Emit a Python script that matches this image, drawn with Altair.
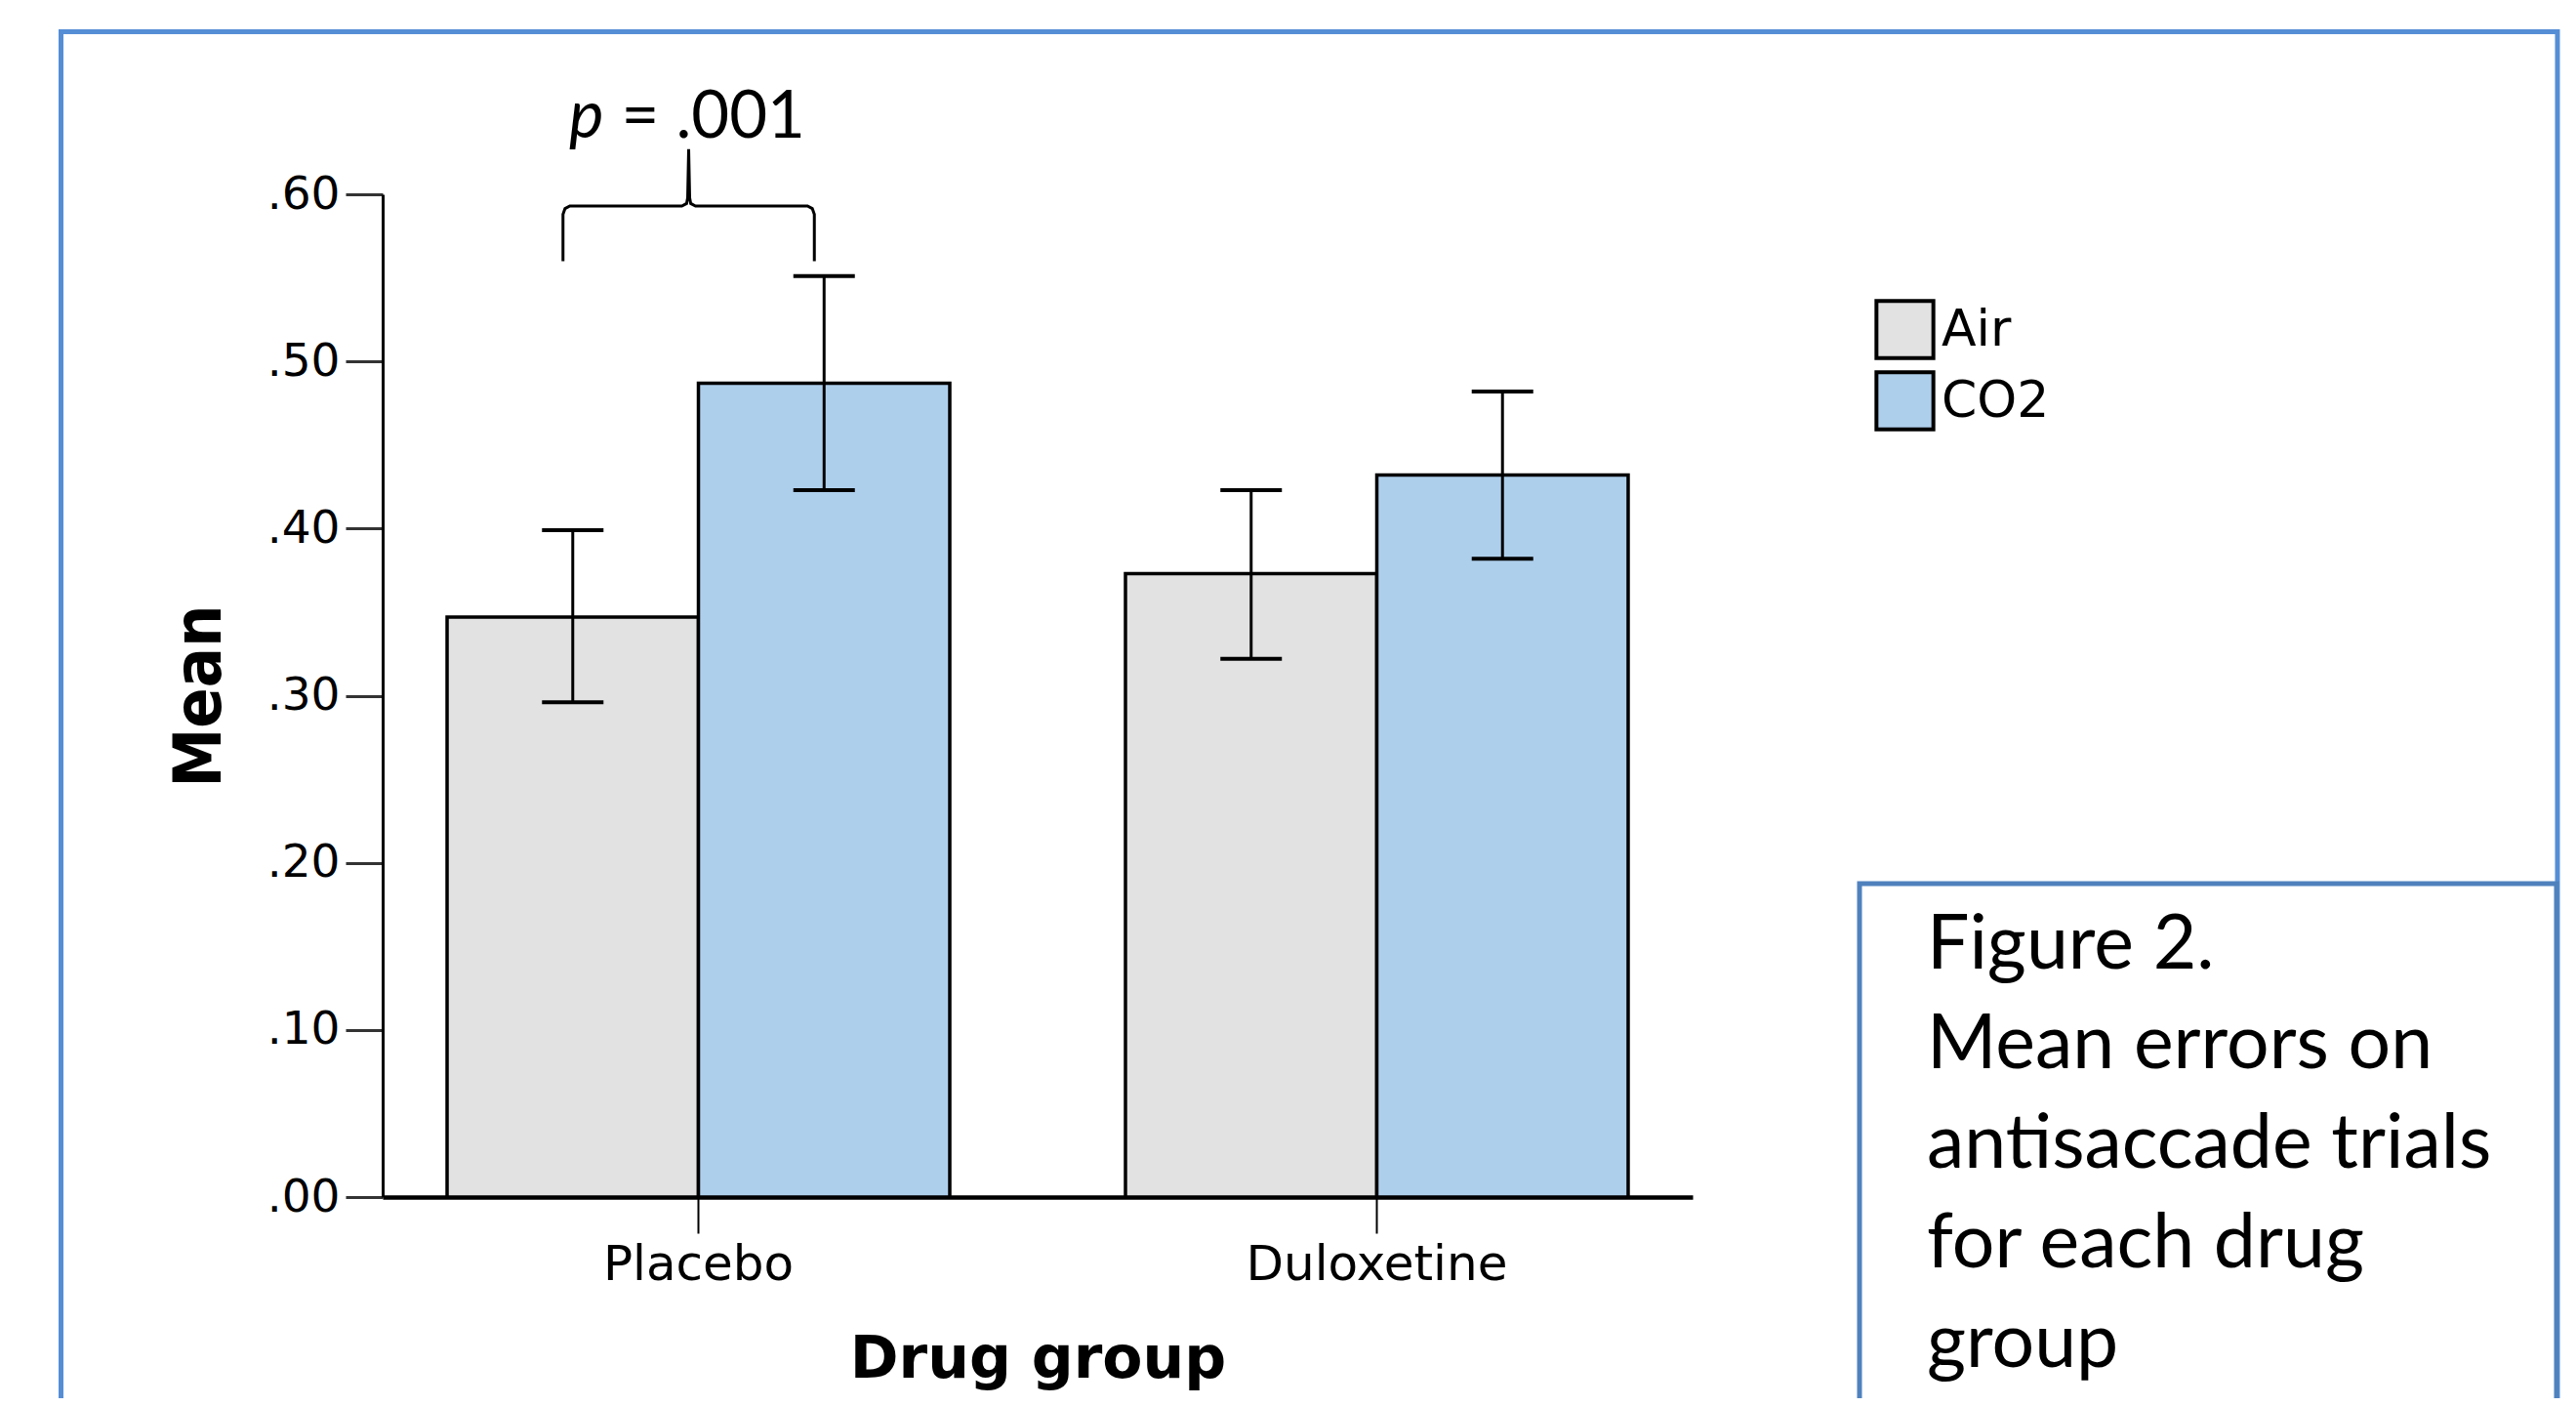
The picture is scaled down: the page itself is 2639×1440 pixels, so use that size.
import altair as alt
import pandas as pd

# ---------------- data ----------------
drugs = ["Placebo", "Duloxetine"]
conditions = ["Air", "CO2"]
# order: Placebo-Air, Placebo-CO2, Duloxetine-Air, Duloxetine-CO2
means = [0.347, 0.487, 0.373, 0.432]
lower = [0.296, 0.423, 0.322, 0.382]
upper = [0.399, 0.551, 0.423, 0.482]
y_ticks = [0.0, 0.1, 0.2, 0.3, 0.4, 0.5, 0.6]
fill_colors = ["#E2E2E2", "#AECFEC"]
p_parts = ["p", "= .001"]
p_level = 0.634
caption = ["Figure 2.", "Mean errors on", "antisaccade trials", "for each drug", "group"]

rows = []
k = 0
for d in drugs:
    for c in conditions:
        rows.append({"drug": d, "cond": c, "mean": means[k], "lo": lower[k], "hi": upper[k]})
        k += 1
df = pd.DataFrame(rows)

# ---------------- layout ----------------
W, H = 1342, 1027
PAD_IN, PAD_OUT = 0.259, 0.095
YDOM = [0, 0.6]

x_axis = alt.Axis(labelAngle=0, domainColor="black", domainWidth=4.5,
                  tickColor="black", tickWidth=2, tickSize=37,
                  labelFont="DejaVu Sans", labelFontSize=50, labelColor="black",
                  labelBaseline="alphabetic", labelPadding=47, labelLimit=1000,
                  titleFont="DejaVu Sans", titleFontSize=60, titleFontWeight="bold",
                  titleColor="black", titleBaseline="alphabetic", titleY=184)
y_axis = alt.Axis(values=y_ticks, grid=False,
                  labelExpr="substring(format(datum.value, '.2f'), 1)",
                  domainColor="black", domainWidth=3,
                  tickColor="#333333", tickWidth=3, tickSize=38,
                  labelFont="DejaVu Sans", labelFontSize=47, labelColor="black",
                  labelPadding=6,
                  titleFont="Liberation Sans Narrow, DejaVu Sans Condensed, DejaVu Sans",
                  titleFontSize=68, titleFontWeight="bold", titleColor="black",
                  titleBaseline="alphabetic", titleX=-167, titleY=H / 2)

x_scale = alt.Scale(paddingInner=PAD_IN, paddingOuter=PAD_OUT)
xo_enc = alt.XOffset("cond:N", sort=conditions, scale=alt.Scale(paddingInner=0, paddingOuter=0))
y_scale = alt.Scale(domain=YDOM, nice=False, zero=True)


def xe():
    return alt.X("drug:N", sort=drugs, scale=x_scale, title="Drug group", axis=x_axis)


bars = alt.Chart(df).mark_bar(stroke="black", strokeWidth=3.5, opacity=1).encode(
    x=xe(), xOffset=xo_enc,
    y=alt.Y("mean:Q", scale=y_scale, title="Mean", axis=y_axis),
    fill=alt.Fill("cond:N", scale=alt.Scale(domain=conditions, range=fill_colors),
                  legend=alt.Legend(title=None, orient="none", legendX=1528, legendY=107,
                                    symbolType="square", symbolSize=3400,
                                    symbolStrokeColor="black", symbolStrokeWidth=4,
                                    symbolOpacity=1,
                                    labelFont="DejaVu Sans", labelFontSize=52,
                                    labelColor="black", labelOffset=6, rowPadding=-2,
                                    padding=0)),
)

rules = alt.Chart(df).mark_rule(color="black", strokeWidth=3).encode(
    x=xe(), xOffset=xo_enc,
    y=alt.Y("lo:Q", scale=y_scale, title="Mean", axis=y_axis), y2="hi:Q")
cap_lo = alt.Chart(df).mark_tick(color="black", thickness=4, size=63, opacity=1).encode(
    x=xe(), xOffset=xo_enc,
    y=alt.Y("lo:Q", scale=y_scale, title="Mean", axis=y_axis))
cap_hi = alt.Chart(df).mark_tick(color="black", thickness=4, size=63, opacity=1).encode(
    x=xe(), xOffset=xo_enc,
    y=alt.Y("hi:Q", scale=y_scale, title="Mean", axis=y_axis))

inner = alt.layer(bars, rules, cap_lo, cap_hi)

# ---------------- bracket annotation (fraction of plot width) ----------------
total = 2 - PAD_IN + 2 * PAD_OUT
bw = 1 - PAD_IN
shift = -10 / W
L = (PAD_OUT + bw / 4) / total + shift
R = (PAD_OUT + 3 * bw / 4) / total + shift
M = (L + R) / 2
y0, y1, y2 = 0.560, 0.593, 0.627
rx, ry = 7 / W, 0.005
pts = [
    (L, y0), (L, y1 - ry), (L + rx * 0.3, y1 - ry * 0.3), (L + rx, y1),
    (M - rx, y1), (M - rx * 0.3, y1 + ry * 0.3), (M - 1 / W, y1 + ry), (M, y2),
    (M + 1 / W, y1 + ry), (M + rx * 0.3, y1 + ry * 0.3), (M + rx, y1),
    (R - rx, y1), (R - rx * 0.3, y1 - ry * 0.3), (R, y1 - ry), (R, y0),
]
br_df = pd.DataFrame({"i": list(range(len(pts))), "bx": [p[0] for p in pts], "by": [p[1] for p in pts]})
bx_scale = alt.Scale(domain=[0, 1], nice=False, zero=False)

bracket = alt.Chart(br_df).mark_line(color="black", strokeWidth=3, interpolate="linear").encode(
    x=alt.X("bx:Q", scale=bx_scale, axis=None),
    y=alt.Y("by:Q", scale=y_scale, axis=None),
    order=alt.Order("i:Q"))

ptxt_df = pd.DataFrame({"bx": [M], "by": [p_level]})
p_text = alt.Chart(ptxt_df).mark_text(text=p_parts[0], font="Lato", fontSize=67, fontStyle="italic",
                                       align="right", baseline="alphabetic", dx=-87, color="black").encode(
    x=alt.X("bx:Q", scale=bx_scale, axis=None), y=alt.Y("by:Q", scale=y_scale, axis=None))
eq_text = alt.Chart(ptxt_df).mark_text(text=p_parts[1], font="Lato", fontSize=67,
                                        align="left", baseline="alphabetic", dx=-69, color="black").encode(
    x=alt.X("bx:Q", scale=bx_scale, axis=None), y=alt.Y("by:Q", scale=y_scale, axis=None))

# ---------------- decorations ----------------
one = pd.DataFrame({"a": [0]})
outer_border = alt.Chart(one).mark_rect(fillOpacity=0, stroke="#558ED5", strokeWidth=5).encode(
    x=alt.value(-329.5), x2=alt.value(2228), y=alt.value(-166.5), y2=alt.value(1300))
cap_box = alt.Chart(one).mark_rect(fill="white", stroke="#4F81BD", strokeWidth=5).encode(
    x=alt.value(1513), x2=alt.value(2227), y=alt.value(706), y2=alt.value(1300))
cap_text = alt.Chart(one).mark_text(text=caption, font="Lato", fontSize=77, lineHeight=102,
                                     align="left", baseline="alphabetic", color="black").encode(
    x=alt.value(1582), y=alt.value(793))

chart = alt.layer(outer_border, inner, bracket, p_text, eq_text, cap_box, cap_text).resolve_scale(
    x="independent", y="independent"
).properties(
    width=W, height=H,
    autosize=alt.AutoSizeParams(type="none"),
    padding={"left": 384, "top": 191, "right": 897, "bottom": 206},
    background="white",
).configure_view(stroke=None)

chart.save("out.html", embed_options={"renderer": "svg", "actions": False})
